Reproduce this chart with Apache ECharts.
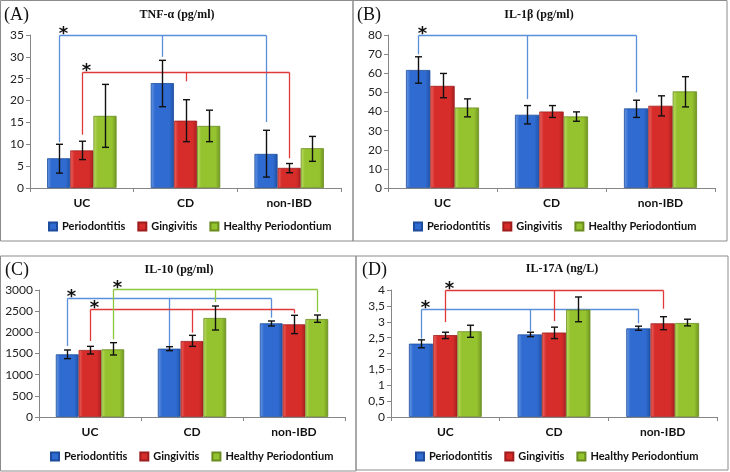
<!DOCTYPE html>
<html>
<head>
<meta charset="utf-8">
<script src="https://cdn.jsdelivr.net/npm/echarts@6/dist/echarts.min.js"></script>
<style>
  html, body { margin: 0; padding: 0; background: #fff; }
  #chart { width: 730px; height: 472px; }
</style>
</head>
<body>
<div id="chart"></div>
<script>
var categories = ["UC", "CD", "non-IBD"];
var groups = ["Periodontitis", "Gingivitis", "Healthy Periodontium"];

// (A) TNF-a, one row per group, one value per category
var tnfMean = [[6.8, 24.0, 7.8], [8.6, 15.4, 4.6], [16.5, 14.2, 9.1]];
var tnfLow = [[3.4, 18.6, 2.5], [6.5, 10.6, 3.5], [9.3, 10.6, 6.1]];
var tnfHigh = [[10.0, 29.2, 13.2], [10.7, 20.2, 5.6], [23.7, 17.8, 11.8]];
var tnfTicks = [0, 5, 10, 15, 20, 25, 30, 35];
// bracket: [group, level, end at UC, end at CD, end at non-IBD]
var tnfBrackets = [[0, 35, 10.5, 30.0, 15.1], [1, 26.6, 12.2, 24.4, 6.8]];

// (B) IL-1b
var il1Mean = [[61.7, 38.3, 41.6], [53.4, 40.0, 43.0], [42.1, 37.4, 50.5]];
var il1Low = [[54.8, 33.5, 36.9], [47.2, 36.9, 37.7], [37.2, 34.9, 42.4]];
var il1High = [[68.6, 43.1, 45.9], [59.9, 43.1, 48.2], [46.6, 39.8, 58.2]];
var il1Ticks = [0, 10, 20, 30, 40, 50, 60, 70, 80];
var il1Brackets = [[0, 80, 69.9, 46.5, 50.0]];

// (C) IL-10
var il10Mean = [[1480, 1614, 2213], [1583, 1795, 2189], [1598, 2339, 2315]];
var il10Low = [[1378, 1567, 2150], [1488, 1669, 1969], [1465, 2055, 2236]];
var il10High = [[1583, 1661, 2268], [1669, 1929, 2402], [1756, 2622, 2409]];
var il10Ticks = [0, 500, 1000, 1500, 2000, 2500, 3000];
var il10Brackets = [[0, 2803, 1677, 1654, 2346], [1, 2543, 1795, 1992, 2449], [2, 3031, 1835, 2717, 2480]];

// (D) IL-17A
var il17Mean = [[2.31, 2.60, 2.79], [2.58, 2.66, 2.95], [2.70, 3.38, 2.96]];
var il17Low = [[2.18, 2.53, 2.73], [2.47, 2.47, 2.75], [2.51, 3.00, 2.87]];
var il17High = [[2.43, 2.67, 2.86], [2.67, 2.83, 3.16], [2.89, 3.78, 3.08]];
var il17Ticks = [0, 0.5, 1, 1.5, 2, 2.5, 3, 3.5, 4];
var il17Brackets = [[0, 3.41, 2.47, 2.71, 2.95], [1, 4.0, 2.99, 3.02, 3.41]];

var panels = [
  { letter: "(A)", title: "TNF-α (pg/ml)", mean: tnfMean, low: tnfLow, high: tnfHigh, ticks: tnfTicks, brackets: tnfBrackets,
    grid: { left: 30, top: 35, width: 311, height: 153 }, box: [0.5, 0.5, 352.5, 240.5], letterPos: [4, 15], titlePos: [177, 15], legendPos: [43, 216] },
  { letter: "(B)", title: "IL-1β (pg/ml)", mean: il1Mean, low: il1Low, high: il1High, ticks: il1Ticks, brackets: il1Brackets,
    grid: { left: 388, top: 35, width: 327, height: 153 }, box: [353, 0.5, 374, 240.5], letterPos: [357, 15], titlePos: [539, 15], legendPos: [408, 216] },
  { letter: "(C)", title: "IL-10 (pg/ml)", mean: il10Mean, low: il10Low, high: il10High, ticks: il10Ticks, brackets: il10Brackets,
    grid: { left: 39, top: 290, width: 306, height: 127 }, box: [0.5, 256, 355.5, 215], letterPos: [5, 270], titlePos: [179, 270], legendPos: [45, 446] },
  { letter: "(D)", title: "IL-17A (ng/L)", mean: il17Mean, low: il17Low, high: il17High, ticks: il17Ticks, brackets: il17Brackets,
    grid: { left: 391, top: 290, width: 326, height: 127 }, box: [356, 256, 372, 214], letterPos: [362, 270], titlePos: [562, 269], legendPos: [410, 446], comma: true }
];

var barFill = [
  ["#6b9be6", "#2f6bd0", "#1f52a8"],
  ["#ec6a66", "#d62d2b", "#a81f1f"],
  ["#bfde6a", "#95c22f", "#6f9622"]
];
var barEdge = ["#1d4c9c", "#9e1c1c", "#6a8c1e"];
var bracketColors = ["#5a8fdc", "#e0393a", "#8cc63f"];
var CAT_GAP = 0.67;

function gradient(g) {
  return new echarts.graphic.LinearGradient(0, 0, 1, 0, [
    { offset: 0, color: barFill[g][0] },
    { offset: 0.18, color: barFill[g][1] },
    { offset: 0.8, color: barFill[g][1] },
    { offset: 1, color: barFill[g][2] }
  ]);
}

function errorItem(params, api) {
  var g = api.value(1);
  var bw = api.size([1, 0])[0] * CAT_GAP / 3;
  var off = (g - 1) * bw;
  var lo = api.coord([api.value(0), api.value(2)]);
  var hi = api.coord([api.value(0), api.value(3)]);
  var x = Math.round(lo[0] + off) + 0.5;
  var cap = 3.5;
  var st = { stroke: "#111", lineWidth: 1.4 };
  return {
    type: "group",
    children: [
      { type: "line", shape: { x1: x, y1: lo[1], x2: x, y2: hi[1] }, style: st },
      { type: "line", shape: { x1: x - cap, y1: lo[1], x2: x + cap, y2: lo[1] }, style: st },
      { type: "line", shape: { x1: x - cap, y1: hi[1], x2: x + cap, y2: hi[1] }, style: st }
    ]
  };
}

function bracketItem(params, api) {
  var g = api.value(0);
  var level = api.value(1);
  var bw = api.size([1, 0])[0] * CAT_GAP / 3;
  var off = (g - 1) * bw;
  var st = { stroke: bracketColors[g], lineWidth: 1.3 };
  var kids = [];
  var xs = [];
  var yTop = 0;
  for (var c = 0; c < 3; c++) {
    var top = api.coord([c, level]);
    var bot = api.coord([c, api.value(2 + c)]);
    var x = Math.round(top[0] + off) + 0.5;
    yTop = Math.round(top[1]) + 0.5;
    xs.push(x);
    kids.push({ type: "line", shape: { x1: x, y1: yTop, x2: x, y2: bot[1] }, style: st });
  }
  kids.push({ type: "line", shape: { x1: xs[0], y1: yTop, x2: xs[2], y2: yTop }, style: st });
  kids.push({
    type: "text",
    x: xs[0] + 4, y: yTop - 1,
    style: { text: "*", fill: "#111", font: "bold 18px 'DejaVu Sans'", align: "center", verticalAlign: "middle" }
  });
  return { type: "group", children: kids };
}

var grids = [], xAxes = [], yAxes = [], series = [], legends = [], graphics = [];

panels.forEach(function (p, i) {
  grids.push(p.grid);
  xAxes.push({
    type: "category", gridIndex: i, data: categories,
    axisLine: { lineStyle: { color: "#868686" } },
    axisTick: { show: true, length: 4, lineStyle: { color: "#868686" } },
    axisLabel: { margin: 9, fontFamily: "Lato", fontWeight: "bold", fontSize: 12, color: "#111" }
  });
  yAxes.push({
    type: "value", gridIndex: i,
    min: p.ticks[0], max: p.ticks[p.ticks.length - 1], interval: p.ticks[1] - p.ticks[0],
    splitLine: { show: false },
    axisLine: { show: true, lineStyle: { color: "#868686" } },
    axisTick: { show: true, length: 4, lineStyle: { color: "#868686" } },
    axisLabel: {
      margin: 6, fontFamily: "Lato", fontSize: 12, color: "#222",
      formatter: p.comma
        ? function (v) { return String(v).replace(".", ","); }
        : function (v) { return String(v); }
    }
  });
  groups.forEach(function (name, g) {
    series.push({
      type: "bar", name: name, xAxisIndex: i, yAxisIndex: i,
      data: p.mean[g], barGap: "0%", barCategoryGap: "33%",
      itemStyle: { color: gradient(g), borderColor: barEdge[g], borderWidth: 0.8 },
      emphasis: { disabled: true }
    });
  });
  var err = [];
  groups.forEach(function (name, g) {
    categories.forEach(function (c, k) {
      err.push([k, g, p.low[g][k], p.high[g][k]]);
    });
  });
  series.push({
    type: "custom", xAxisIndex: i, yAxisIndex: i, renderItem: errorItem,
    data: err, encode: { x: 0, y: [2, 3] }, z: 5, silent: true
  });
  series.push({
    type: "custom", xAxisIndex: i, yAxisIndex: i, renderItem: bracketItem,
    data: p.brackets, encode: { x: 0, y: [1, 2, 3, 4] }, clip: false, z: 1, silent: true
  });
  legends.push({
    data: groups, left: p.legendPos[0], top: p.legendPos[1], width: 340, orient: "horizontal",
    itemWidth: 8, itemHeight: 8, itemGap: 12, icon: "rect",
    textStyle: { fontFamily: "Lato", fontWeight: "bold", fontSize: 11, color: "#111" }
  });
  graphics.push({
    type: "rect", shape: { x: p.box[0], y: p.box[1], width: p.box[2], height: p.box[3] },
    style: { fill: null, stroke: "#8c8c8c", lineWidth: 1 }, silent: true
  });
  graphics.push({
    type: "text", x: p.letterPos[0], y: p.letterPos[1],
    style: { text: p.letter, font: "18px 'Liberation Serif'", fill: "#111", verticalAlign: "middle" }
  });
  graphics.push({
    type: "text", x: p.titlePos[0], y: p.titlePos[1],
    style: { text: p.title, font: "bold 12px 'Liberation Serif'", fill: "#111", align: "center", verticalAlign: "middle" }
  });
});

var chart = echarts.init(document.getElementById("chart"));
chart.setOption({
  animation: false,
  backgroundColor: "#fff",
  grid: grids,
  xAxis: xAxes,
  yAxis: yAxes,
  legend: legends,
  graphic: graphics,
  series: series
});
</script>
</body>
</html>
